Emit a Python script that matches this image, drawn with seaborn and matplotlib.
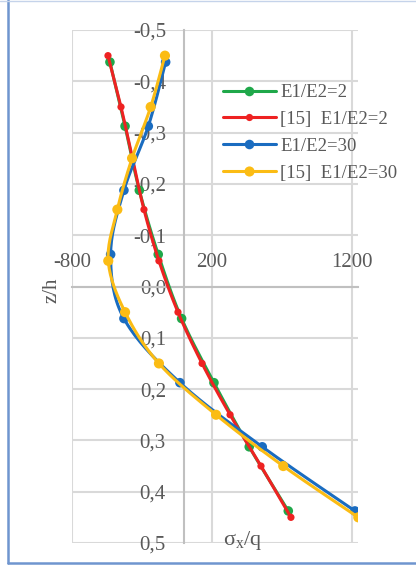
import numpy as np
import matplotlib
matplotlib.use("Agg")
import matplotlib.pyplot as plt
import seaborn as sns
from matplotlib.lines import Line2D

# ---- data ----
z_coarse = [-0.4375, -0.3125, -0.1875, -0.0625, 0.0625, 0.1875, 0.3125, 0.4375]
z_fine = [-0.45, -0.35, -0.25, -0.15, -0.05, 0.05, 0.15, 0.25, 0.35, 0.45]
green_e2 = [-529, -421, -319, -184, -17, 214, 466, 745]
red_ref_e2 = [-543, -450, -368, -286, -179, -43, 129, 329, 550, 764]
blue_e30 = [-131, -255, -429, -524, -429, -29, 559, 1221]
yellow_ref_e30 = [-136, -238, -371, -476, -541, -421, -179, 229, 709, 1245]
labels = ["E1/E2=2", "[15]  E1/E2=2", "E1/E2=30", "[15]  E1/E2=30"]
x_ticks = [-800, 200, 1200]
y_ticks = [-0.5, -0.4, -0.3, -0.2, -0.1, 0.0, 0.1, 0.2, 0.3, 0.4, 0.5]

sns.set_style("white")
plt.rcParams['font.family'] = ['Liberation Serif', 'DejaVu Serif']
plt.rcParams['mathtext.fontset'] = 'custom'
plt.rcParams['mathtext.rm'] = 'Liberation Sans'
plt.rcParams['mathtext.it'] = 'Liberation Sans'

W, H = 416, 565
fig = plt.figure(figsize=(W / 100, H / 100), dpi=100)
ax = fig.add_axes([72 / W, 1 - 543 / H, (358 - 72) / W, 513 / H])


def smooth(xs, zs, n=20):
    p = np.column_stack([xs, zs]).astype(float)
    p = np.vstack([p[0], p, p[-1]])
    out = []
    for i in range(1, len(p) - 2):
        p0, p1, p2, p3 = p[i - 1], p[i], p[i + 1], p[i + 2]
        c1 = p1 + (p2 - p0) / 6
        c2 = p2 - (p3 - p1) / 6
        t = np.linspace(0, 1, n)[:, None]
        seg = ((1 - t) ** 3) * p1 + 3 * ((1 - t) ** 2) * t * c1 + 3 * (1 - t) * t ** 2 * c2 + t ** 3 * p2
        out.append(seg if i == 1 else seg[1:])
    s = np.vstack(out)
    return s[:, 0], s[:, 1]


series = [
    (green_e2, z_coarse, "#1fa84a", 6.9),
    (red_ref_e2, z_fine, "#ee2222", 5.2),
    (blue_e30, z_coarse, "#1a6cc0", 6.9),
    (yellow_ref_e30, z_fine, "#fbbc14", 7.3),
]
for k, (xs, zs, col, ms) in enumerate(series):
    sx, sz = smooth(xs, zs)
    sns.lineplot(x=sx, y=sz, sort=False, estimator=None, color=col, lw=2.2, ax=ax, zorder=3 + k)
    sns.scatterplot(x=xs, y=zs, color=col, s=ms ** 2, edgecolor="none", linewidth=0, ax=ax, zorder=3 + k)

ax.set_xlim(-800, 1243)
ax.set_ylim(0.5, -0.5)
ax.set_xticks(x_ticks)
ax.set_yticks(y_ticks)
ax.set_xticklabels([str(v) for v in x_ticks])
ax.set_yticklabels([f"{v:.1f}".replace(".", ",") for v in y_ticks])
ax.grid(True, color="#d9d9d9", lw=1.5)
ax.set_axisbelow(True)

ax.spines['left'].set_position(('data', 0))
ax.spines['top'].set_position(('data', 0))
ax.spines['right'].set_visible(False)
ax.spines['bottom'].set_visible(False)
for s in ['left', 'top']:
    ax.spines[s].set_color("#c0c0c0")
    ax.spines[s].set_linewidth(1.5)
ax.xaxis.tick_top()
ax.tick_params(axis='x', length=0, pad=10.5, labelsize=15, labelcolor="#595959")
ax.tick_params(axis='y', length=0, pad=13, labelsize=15, labelcolor="#595959")
ax.set_xlabel("")
ax.set_ylabel("")

handles = [Line2D([0], [0], color=c, lw=2.2, marker='o', markersize=ms, markeredgewidth=0)
           for (_, _, c, ms) in series]
leg = ax.legend(handles, labels, loc='upper left', bbox_to_anchor=(223 / W, 1 - 84 / H),
                bbox_transform=fig.transFigure, frameon=False, fontsize=13.5,
                handlelength=2.8, handletextpad=0.25, labelspacing=0.52, borderpad=0,
                borderaxespad=0)
for t in leg.get_texts():
    t.set_color("#595959")

fig.text(52 / W, 1 - 290 / H, "z/h", rotation=90, ha='center', va='center', fontsize=15, color="#595959")
fig.text(243 / W, 1 - 540 / H, r"$\mathregular{\sigma_x/q}$", ha='center', va='center', fontsize=16, color="#595959")

# chart frame
fig.add_artist(Line2D([8 / W, 8 / W], [1 - 563 / H, 1.0], transform=fig.transFigure, color="#6f95cf", lw=1.8))
fig.add_artist(Line2D([8 / W, 1.0], [1 - 563 / H, 1 - 563 / H], transform=fig.transFigure, color="#6f95cf", lw=1.8))
fig.add_artist(Line2D([0, 1.0], [1 - 1 / H, 1 - 1 / H], transform=fig.transFigure, color="#c5d3ea", lw=1.0))

fig.savefig("out.png", dpi=100)
